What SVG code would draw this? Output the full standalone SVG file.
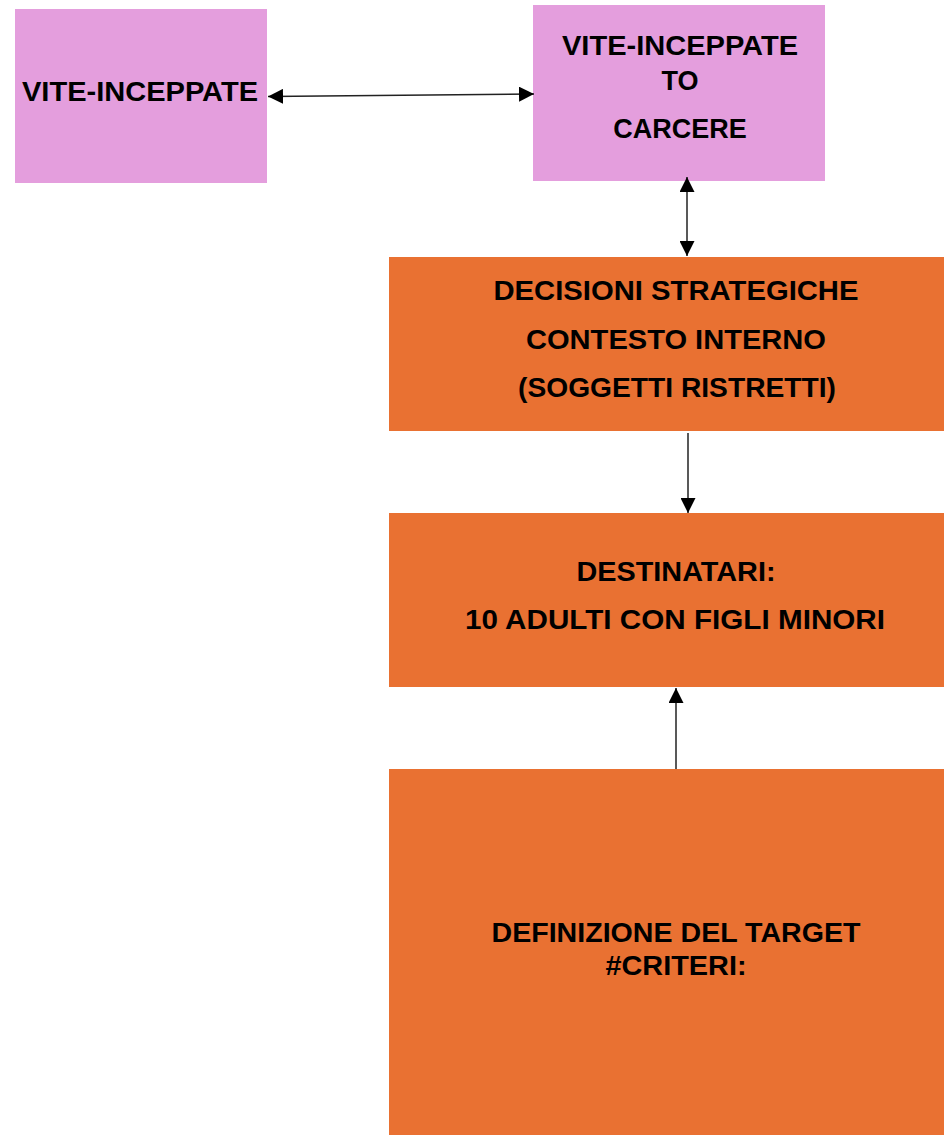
<svg xmlns="http://www.w3.org/2000/svg" width="944" height="1135" viewBox="0 0 944 1135">
<defs>
<style>
.pink{fill:#E49EDD}
.orange{fill:#E97132}
.t{font-family:"Liberation Sans",Arial,sans-serif;font-weight:bold;font-size:27px;fill:#000;text-anchor:middle}
.c{stroke:#222;stroke-width:1.5;fill:none}
</style>
<marker id="ah" viewBox="0 0 10 10" refX="10" refY="5" markerWidth="15" markerHeight="15" markerUnits="userSpaceOnUse" orient="auto-start-reverse">
<path d="M0,0 L10,5 L0,10 z" fill="#000"/>
</marker>
</defs>
<rect width="944" height="1135" fill="#fff"/>
<g id="n1">
<rect class="pink" x="15" y="9" width="252" height="174"/>
<text class="t" x="140" y="101" textLength="236" lengthAdjust="spacingAndGlyphs">VITE-INCEPPATE</text>
</g>
<g id="n2">
<rect class="pink" x="533" y="5" width="292" height="176"/>
<text class="t" x="680" y="55" textLength="236" lengthAdjust="spacingAndGlyphs">VITE-INCEPPATE</text>
<text class="t" x="680" y="90">TO</text>
<text class="t" x="680" y="138">CARCERE</text>
</g>
<g id="n3">
<rect class="orange" x="389" y="257" width="555" height="174"/>
<text class="t" x="676" y="300" textLength="365" lengthAdjust="spacingAndGlyphs">DECISIONI STRATEGICHE</text>
<text class="t" x="676" y="349" textLength="300" lengthAdjust="spacingAndGlyphs">CONTESTO INTERNO</text>
<text class="t" x="677" y="397" textLength="318" lengthAdjust="spacingAndGlyphs">(SOGGETTI RISTRETTI)</text>
</g>
<g id="n4">
<rect class="orange" x="389" y="513" width="555" height="174"/>
<text class="t" x="676" y="581" textLength="199" lengthAdjust="spacingAndGlyphs">DESTINATARI:</text>
<text class="t" x="675" y="629" textLength="420" lengthAdjust="spacingAndGlyphs">10 ADULTI CON FIGLI MINORI</text>
</g>
<g id="n5">
<rect class="orange" x="389" y="769" width="555" height="366"/>
<text class="t" x="676" y="942" textLength="369" lengthAdjust="spacingAndGlyphs">DEFINIZIONE DEL TARGET</text>
<text class="t" x="676" y="975" textLength="141" lengthAdjust="spacingAndGlyphs">#CRITERI:</text>
</g>
<g id="connectors">
<line class="c" x1="268" y1="96.5" x2="534" y2="94" marker-start="url(#ah)" marker-end="url(#ah)"/>
<line class="c" x1="687" y1="177" x2="687" y2="256" marker-start="url(#ah)" marker-end="url(#ah)"/>
<line class="c" x1="688" y1="433" x2="688" y2="513" marker-end="url(#ah)"/>
<line class="c" x1="676" y1="769" x2="676" y2="688" marker-end="url(#ah)"/>
</g>
</svg>
